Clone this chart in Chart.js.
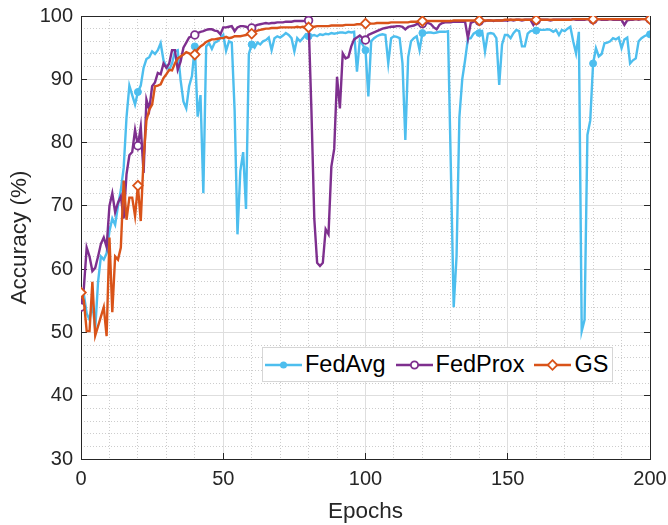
<!DOCTYPE html>
<html>
<head>
<meta charset="utf-8">
<script src="https://cdn.jsdelivr.net/npm/chart.js@4/dist/chart.umd.min.js"></script>
<style>
  html, body { margin: 0; padding: 0; background: #fff; }
  #wrap { position: relative; width: 668px; height: 525px; }
  #legend {
    position: absolute; left: 262px; top: 347px; width: 351px; height: 35px;
    box-sizing: border-box; border: 1px solid #d6d6d6; background: #fff;
    display: flex; align-items: center; padding-left: 2px;
    font-family: "Liberation Sans", Arial, Helvetica, sans-serif; font-size: 23.5px; color: #000;
  }
  #legend .item { display: flex; align-items: center; margin-right: 10px; white-space: nowrap; }
  #legend svg { margin-right: 3px; }
</style>
</head>
<body>
<div id="wrap">
  <canvas id="myChart" width="668" height="525"></canvas>
  <div id="legend"></div>
</div>
<script>
// series names / colours (MATLAB default palette)
const seriesNames = ["FedAvg", "FedProx", "GS"];
const seriesColors = ["#4DBEEE", "#7E2F8E", "#D95319"];

// tick labels
const xTicks = [0, 50, 100, 150, 200];
const yTicks = [30, 40, 50, 60, 70, 80, 90, 100];

// accuracy per epoch, epochs 0..200
const fedAvg = [
  55.5, 56, 53, 52, 54.5, 50.5, 58, 62, 61.5, 62.5, 66, 68, 67, 70, 72.5, 76, 84, 89, 87.5, 86,
  88, 89, 91.8, 93.2, 93.5, 94.4, 94, 94.6, 95.7, 93, 92, 91.5, 92.5, 94.4, 94.6, 89.9, 86.5, 85.4, 88.9, 90.5,
  95.2, 84.1, 87.5, 72, 95.2, 95.7, 94.8, 95.8, 96, 96.5, 97, 94.5, 96, 95.8, 85, 65.5, 75.5, 78.5, 69.5, 94,
  95.5, 95, 95.8, 95.5, 96, 96.2, 96.6, 94.6, 96.5, 96.8, 96.6, 96.9, 97.3, 97, 96.5, 94.4, 96.5, 96, 96.5, 97.1,
  96.8, 96.9, 97, 96.8, 97.1, 97, 97.2, 97.1, 97.3, 97.2, 97.3, 97.4, 97.4, 97.3, 97.5, 97.4, 97.5, 91.2, 96.2, 95.5,
  94.6, 87.3, 96, 96.5, 96.8, 97, 97.1, 97, 92.5, 96.5, 96.8, 96.7, 96.5, 92.5, 80.4, 93.5, 96, 96.5, 96.8, 94.6,
  97.3, 97.3, 97.4, 97.4, 97.3, 97.4, 97.5, 97.5, 97.5, 97.6, 76, 54, 62, 84, 90, 93, 96.4, 96.5, 97.2, 97.5,
  97.3, 97.6, 94.4, 97.2, 97.3, 97.2, 96.5, 89.1, 95.5, 97, 97, 96.5, 97.3, 97.8, 97.6, 95.2, 95.2, 97.2, 97.6, 97.7,
  97.7, 97.8, 97.8, 97.8, 97.9, 97.8, 97.5, 97.8, 97, 97.8, 97.6, 98, 98.3, 96, 94.1, 97.5, 50.2, 52, 81.2, 83.5,
  92.5, 94.9, 93.6, 94, 95.7, 95.8, 96, 96.5, 96.3, 96.6, 94.9, 96.3, 96.6, 92.5, 93, 93.3, 96, 96.5, 96.8, 97,
  97.1
];
const fedProx = [
  54, 57, 63.4, 62, 59.7, 60.2, 62, 64, 65, 63.5, 70, 72, 69, 70.5, 71.5, 68, 75, 78, 78.5, 82,
  79.5, 82.5, 75.2, 86.8, 85.2, 88.9, 89.5, 91, 90.8, 92.5, 91.8, 92.5, 94.6, 94.6, 91.5, 92.8, 95, 95.8, 96.6, 96.8,
  97, 97.3, 97.5, 97.6, 97.8, 97.9, 97.9, 97.7, 97.6, 97.1, 98.2, 98.2, 98.3, 98.4, 97.6, 98.2, 98.4, 98.4, 98.3, 98.1,
  98.1, 98.4, 98.6, 98.7, 98.8, 98.9, 98.8, 98.9, 98.9, 99, 99, 99, 99.1, 99.1, 99.1, 99.2, 99.2, 99.2, 99.2, 99.3,
  99.3, 85, 68, 61, 60.5, 61, 66.3, 65.5, 76.2, 79, 90.4, 85.4, 94.1, 93.3, 93.5, 95.2, 96.3, 96.6, 96.9, 96.5,
  96.2, 97, 97.2, 97.4, 97.6, 97.8, 98, 98.1, 98.2, 98.3, 98.3, 98.4, 98.4, 98.3, 97.9, 98.3, 98.4, 98.5, 98.7, 98.8,
  98.8, 98.9, 98.9, 98.7, 98.2, 97.9, 98.6, 98.9, 99, 99, 99, 99.1, 99.1, 99.1, 99.1, 99.1, 96.5, 98.9, 99.1, 99.2,
  99.2, 99.2, 99.2, 99.3, 99.3, 99.2, 99.3, 99.3, 99.3, 99.3, 99.3, 99.4, 99.3, 99.4, 99.4, 99.3, 99.4, 99.4, 99.4, 98.6,
  99.3, 99.4, 99.4, 99.4, 99.4, 99.3, 99.4, 99.4, 99.4, 99.4, 99.4, 99.4, 99.4, 99.5, 99.4, 99.4, 99.4, 99.4, 99.5, 99.4,
  99.4, 99.4, 99.5, 99.4, 99.4, 99.4, 99.5, 99.4, 99.4, 99.4, 99.4, 98.6, 99.3, 99.4, 99.4, 99.5, 99.4, 99.5, 99.5, 99.5,
  99.5
];
const gs = [
  56.3, 55, 50.2, 50.2, 58, 49.5, 51, 52.5, 54, 49.4, 65, 53.2, 62, 61.5, 63.4, 74, 67.8, 71.3, 71.3, 68.4,
  73.2, 67.6, 77.5, 83.5, 85.2, 86, 88.9, 89, 89.2, 90.2, 90.8, 91.5, 91.4, 92.5, 93.3, 93.6, 93.9, 94.3, 94.1, 93.9,
  93.9, 94.7, 95.2, 95.5, 95.9, 96.1, 96.3, 96.3, 96.4, 96.5, 96.5, 96.7, 96.5, 96.6, 96.8, 96.8, 96.8, 96.9, 97, 97.2,
  97.2, 97.5, 97.7, 97.8, 97.9, 98, 98, 98.1, 98.1, 98.1, 98.2, 98.2, 98.2, 98.2, 98.2, 98.2, 98.3, 98.2, 98.3, 98.2,
  98.2, 98.3, 98.3, 98.4, 98.4, 98.4, 98.4, 98.4, 98.5, 98.5, 98.5, 98.5, 98.5, 98.6, 98.6, 98.6, 98.6, 98.7, 98.7, 98.7,
  98.8, 98.8, 98.8, 98.8, 98.9, 98.9, 98.9, 98.9, 98.9, 99, 99, 99, 99, 99, 99, 99, 99.1, 99.1, 99.1, 99.1,
  99.2, 99.2, 99.2, 99.2, 99.2, 99.2, 99.2, 99.2, 99.2, 99.2, 99.2, 99.3, 99.3, 99.3, 99.3, 99.3, 99.3, 99.3, 99.3, 99.3,
  99.3, 99.3, 99.3, 99.3, 99.3, 99.3, 99.3, 99.3, 99.3, 99.4, 99.4, 99.4, 99.4, 99.4, 99.4, 99.4, 99.4, 99.4, 99.4, 99.4,
  99.4, 99.4, 99.4, 99.4, 99.4, 99.4, 99.4, 99.4, 99.4, 99.4, 99.4, 99.4, 99.4, 99.5, 99.5, 99.5, 99.5, 99.5, 99.5, 99.5,
  99.5, 99.5, 99.5, 99.5, 99.5, 99.5, 99.5, 99.5, 99.5, 99.5, 99.5, 99.5, 99.5, 99.5, 99.5, 99.5, 99.5, 99.5, 99.5, 99.5,
  99.5
];

const INK = "#262626";
const FONT = "'Liberation Sans', Arial, Helvetica, sans-serif";
const MARK_EVERY = 20;
const LINE_W = 2.4;

Chart.defaults.font.family = FONT;
Chart.defaults.color = INK;

// epoch index -> {x, y}
const toPoints = arr => arr.map((v, i) => ({ x: i, y: v }));
const markerRadius = r => ctx => (ctx.dataIndex % MARK_EVERY === 0 ? r : 0);

// hidden axis used for dotted minor grid
const minorAxis = (position, min, max, step, major) => ({
  type: "linear", position, min, max,
  ticks: { display: false, stepSize: step },
  grid: {
    color: c => (c.tick && c.tick.value % major === 0 ? "rgba(0,0,0,0)" : "#cdcdcd"),
    drawTicks: false, z: -2
  },
  border: { display: false, dash: [1, 2] }
});
// hidden axis for the top / right side of the box, ticks pointing inward
const mirrorAxis = (position, min, max, step) => ({
  type: "linear", position, min, max,
  ticks: { display: false, stepSize: step },
  grid: { drawOnChartArea: false, tickLength: -6, tickColor: INK },
  border: { color: INK, width: 1 },
  afterFit: s => { s.width = position === "right" ? 0 : s.width; s.height = position === "top" ? 0 : s.height; }
});

const ctx = document.getElementById("myChart").getContext("2d");

const myChart = new Chart(ctx, {
  type: "line",
  data: {
    datasets: [
      {
        label: seriesNames[0],
        data: toPoints(fedAvg),
        borderColor: seriesColors[0],
        backgroundColor: seriesColors[0],
        pointBackgroundColor: seriesColors[0],
        pointBorderColor: seriesColors[0],
        pointStyle: "circle",
        pointRadius: markerRadius(3.5),
        pointBorderWidth: 1,
        order: 3
      },
      {
        label: seriesNames[1],
        data: toPoints(fedProx),
        borderColor: seriesColors[1],
        backgroundColor: seriesColors[1],
        pointBackgroundColor: "#ffffff",
        pointBorderColor: seriesColors[1],
        pointStyle: "circle",
        pointRadius: markerRadius(3.8),
        pointBorderWidth: 1.8,
        order: 2
      },
      {
        label: seriesNames[2],
        data: toPoints(gs),
        borderColor: seriesColors[2],
        backgroundColor: seriesColors[2],
        pointBackgroundColor: "#ffffff",
        pointBorderColor: seriesColors[2],
        pointStyle: "rectRot",
        pointRadius: markerRadius(4.8),
        pointBorderWidth: 1.8,
        order: 1
      }
    ]
  },
  options: {
    responsive: false,
    animation: false,
    devicePixelRatio: 1,
    layout: { padding: { left: 0, top: 16, right: 18, bottom: 0 }, autoPadding: false },
    elements: {
      line: { borderWidth: LINE_W, tension: 0 },
      point: { hoverRadius: 0 }
    },
    plugins: { legend: { display: false }, tooltip: { enabled: false } },
    scales: {
      x: {
        type: "linear", position: "bottom", min: 0, max: 200,
        afterBuildTicks: s => { s.ticks = xTicks.map(v => ({ value: v })); },
        ticks: { color: INK, font: { size: 20 }, padding: 14, maxRotation: 0, autoSkip: false },
        grid: { color: "#dedede", tickColor: INK, tickLength: -6 },
        border: { color: INK, width: 1 },
        title: { display: true, text: "Epochs", color: INK, font: { size: 22.5 }, padding: 0 },
        afterFit: s => { s.height = 66; s.paddingLeft = 0; s.paddingRight = 0; }
      },
      y: {
        type: "linear", position: "left", min: 30, max: 100,
        afterBuildTicks: s => { s.ticks = yTicks.map(v => ({ value: v })); },
        ticks: { color: INK, font: { size: 20 }, padding: 14, autoSkip: false },
        grid: { color: "#dedede", tickColor: INK, tickLength: -6 },
        border: { color: INK, width: 1 },
        title: { display: true, text: "Accuracy (%)", color: INK, font: { size: 22.5 }, padding: { top: 6, bottom: 0 } },
        afterFit: s => { s.width = 81; s.paddingTop = 0; s.paddingBottom = 0; }
      },
      xMinor: minorAxis("bottom", 0, 200, 10, 50),
      yMinor: minorAxis("left", 30, 100, 2, 10),
      xTop: mirrorAxis("top", 0, 200, 50),
      yRight: mirrorAxis("right", 30, 100, 10)
    }
  }
});

// legend box like MATLAB: line sample with the marker, then the name
const legendEl = document.getElementById("legend");
myChart.data.datasets.forEach((ds, i) => {
  const c = seriesColors[i];
  let mark;
  if (ds.pointStyle === "rectRot") {
    mark = `<polygon points="18.5,5.2 23.3,10 18.5,14.8 13.7,10" fill="#fff" stroke="${c}" stroke-width="1.8"/>`;
  } else if (i === 0) {
    mark = `<circle cx="18.5" cy="10" r="3.5" fill="${c}"/>`;
  } else {
    mark = `<circle cx="18.5" cy="10" r="3.6" fill="#fff" stroke="${c}" stroke-width="1.8"/>`;
  }
  const item = document.createElement("span");
  item.className = "item";
  item.innerHTML =
    `<svg width="37" height="20"><line x1="0" y1="10" x2="37" y2="10" stroke="${c}" stroke-width="${LINE_W}"/>${mark}</svg>` +
    `<span>${ds.label}</span>`;
  legendEl.appendChild(item);
});
</script>
</body>
</html>
